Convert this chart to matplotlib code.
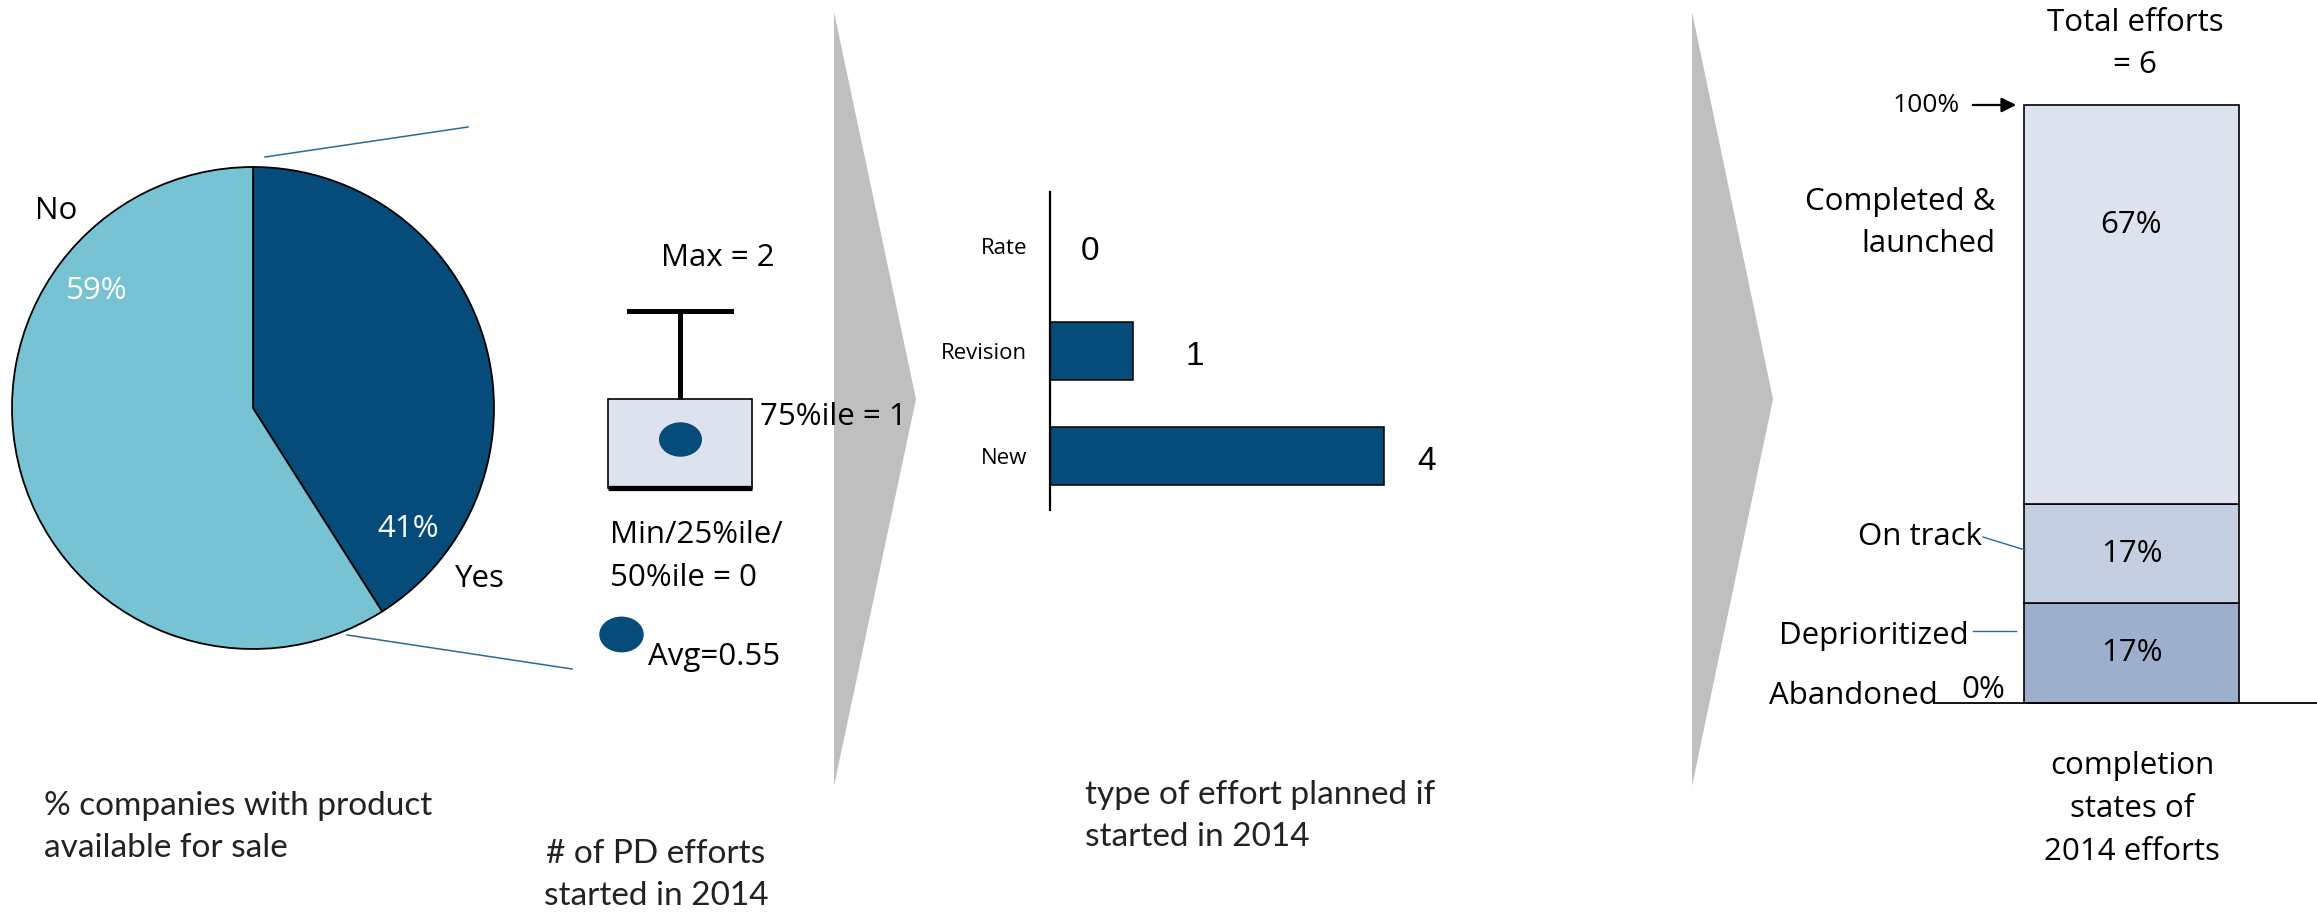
import numpy as np
import matplotlib
matplotlib.use("Agg")
import matplotlib.pyplot as plt
from matplotlib.path import Path

# % companies with product available for sale
pie_labels = ["Yes", "No"]
pie_pcts = [41, 59]

# number of PD efforts started in 2014
pd_min, pd_q1, pd_med, pd_q3, pd_max = 0, 0, 0, 1, 2
pd_avg = 0.55

# type of effort planned if started in 2014
effort_types = ["Rate", "Revision", "New"]
effort_counts = [0, 1, 4]

# completion states of 2014 efforts (bottom to top)
states = ["Abandoned", "Deprioritized", "On track", "Completed &\nlaunched"]
state_counts = [0, 1, 1, 4]

DARK = "#064C7B"
LIGHT = "#78C3D3"
BOXFILL = "#DDE3EE"
STACK_COLORS = ["#9CAFCD", "#9CAFCD", "#C4CFE1", "#DCE3EE"]
GREY = "#BFBFBF"
LINKBLUE = "#2A6A98"

plt.rcParams["font.family"] = ["Open Sans", "DejaVu Sans"]
CAPTION = dict(family=["Lato", "DejaVu Sans"], fontweight="normal", fontsize=24,
               color="#222222", linespacing=1.5)
FS = 22.5

W, H = 2317, 913
fig = plt.figure(figsize=(W / 100, H / 100), dpi=100)


def px_axes(l, t, r, b):
    return fig.add_axes([l / W, 1 - b / H, (r - l) / W, (b - t) / H])


# ---- pie ----
ax_pie = px_axes(12, 167, 494, 649)
ax_pie.pie(pie_pcts, colors=[DARK, LIGHT], startangle=90, counterclock=False,
           wedgeprops=dict(edgecolor="black", linewidth=1.3))
ax_pie.set_xlim(-1, 1)
ax_pie.set_ylim(-1, 1)
ax_pie.axis("off")
for p in ax_pie.patches:
    p.set_clip_on(False)

# ---- box plot ----
ax_box = px_axes(600, 311, 760, 488)
ellipse = Path(Path.unit_circle().vertices * [1, 0.8], Path.unit_circle().codes)
stats = [dict(med=pd_med, q1=pd_q1, q3=pd_q3, whislo=pd_min, whishi=pd_max,
              mean=pd_avg, fliers=[])]
parts = ax_box.bxp(stats, positions=[80], widths=[145], capwidths=[103],
                   patch_artist=True, showmeans=True, showfliers=False,
                   manage_ticks=False,
                   boxprops=dict(facecolor=BOXFILL, edgecolor="black", linewidth=1.2),
                   whiskerprops=dict(color="black", linewidth=3.6, solid_capstyle="butt"),
                   capprops=dict(color="black", linewidth=3.6),
                   medianprops=dict(color="black", linewidth=3.8),
                   meanprops=dict(marker=ellipse, markersize=31, markerfacecolor=DARK,
                                  markeredgecolor="none"))
for group in parts.values():
    for art in group:
        art.set_clip_on(False)
ax_box.set_xlim(0, 160)
ax_box.set_ylim(0, 2)
ax_box.axis("off")

# ---- horizontal bars ----
ax_bar = px_axes(1050, 192, 1467, 510)
pos = np.arange(len(effort_types))[::-1]
ax_bar.barh(pos, effort_counts, height=0.552, color=DARK, edgecolor="black", linewidth=1.1)
ax_bar.set_xlim(0, 5)
ax_bar.set_ylim(-0.514, 2.514)
for s in ["top", "right", "bottom"]:
    ax_bar.spines[s].set_visible(False)
ax_bar.spines["left"].set_linewidth(1.6)
ax_bar.set_xticks([])
ax_bar.set_yticks(pos, effort_types)
ax_bar.tick_params(axis="y", length=0, pad=16.5, labelsize=16)
label_dx = [0.48, 0.74, 0.51]
for p, v, dx in zip(pos, effort_counts, label_dx):
    ax_bar.text(v + dx, p - 0.05, str(v), ha="center", va="center", fontsize=24,
                family=["Liberation Sans", "DejaVu Sans"])

# ---- stacked completion bar ----
ax_st = px_axes(1936, 105, 2317, 703)
total = sum(state_counts)
pcts = [c / total * 100 for c in state_counts]
bottom = 0
label_frac = [0.5, 0.5, 0.5, 0.7]
for pct, col, fr in zip(pcts, STACK_COLORS, label_frac):
    ax_st.bar(195.5, pct, width=215, bottom=bottom, color=col, edgecolor="black", linewidth=1.2)
    if pct > 0:
        ax_st.text(195.5, bottom + pct * fr, f"{pct:.0f}%", ha="center", va="center", fontsize=FS)
    bottom += pct
ax_st.set_xlim(0, 381)
ax_st.set_ylim(0, 100)
for s in ["top", "right", "left"]:
    ax_st.spines[s].set_visible(False)
ax_st.spines["bottom"].set_linewidth(1.3)
ax_st.set_xticks([])
ax_st.set_yticks([])
for p in ax_st.patches:
    p.set_clip_on(False)

# ---- overlay for annotations ----
ov = fig.add_axes([0, 0, 1, 1])
ov.set_xlim(0, W)
ov.set_ylim(H, 0)
ov.axis("off")

# chevrons
for x0, tip in [(834, 916), (1692, 1773)]:
    ov.fill([x0, tip, x0], [12, 399, 786], color=GREY, lw=0)

# pie annotations
ov.text(56, 211, "No", ha="center", va="center", fontsize=FS)
ov.text(480, 579, "Yes", ha="center", va="center", fontsize=FS)
ov.text(97, 291, f"{pie_pcts[1]}%", ha="center", va="center", fontsize=FS, color="white")
ov.text(408, 529, f"{pie_pcts[0]}%", ha="center", va="center", fontsize=FS, color="white")
ov.plot([265, 468], [157, 127], color=LINKBLUE, lw=1.1)
ov.plot([347, 572], [635, 669], color=LINKBLUE, lw=1.1)
ov.text(44, 827, "% companies with product\navailable for sale", ha="left", va="center",
        **CAPTION)

# box annotations
ov.text(718, 258, f"Max = {pd_max}", ha="center", va="center", fontsize=FS)
ov.text(760, 417, f"75%ile = {pd_q3}", ha="left", va="center", fontsize=FS)
ov.text(610, 535, "Min/25%ile/", ha="left", va="center", fontsize=FS)
ov.text(610, 578, f"50%ile = {pd_med}", ha="left", va="center", fontsize=FS)
ov.plot([621], [634], marker=ellipse, markersize=31, color=DARK, ls="none")
ov.text(648, 657, f"Avg={pd_avg}", ha="left", va="center", fontsize=FS)
ov.text(656, 875, "# of PD efforts\nstarted in 2014", ha="center", va="center", **CAPTION)

# bar caption
ov.text(1085, 816, "type of effort planned if\nstarted in 2014", ha="left", va="center",
        **CAPTION)

# completion annotations
ov.text(2135, 44, f"Total efforts\n= {total}", ha="center", va="center", fontsize=FS,
        linespacing=1.55)
ov.text(1926, 106, "100%", ha="center", va="center", fontsize=19)
ov.annotate("", xy=(2019, 105), xytext=(1970, 105),
            arrowprops=dict(arrowstyle="-|>", color="black", lw=1.6, mutation_scale=22))
ov.text(1995, 223, states[3], ha="right", va="center", fontsize=FS, linespacing=1.55)
ov.text(1982, 537, states[2], ha="right", va="center", fontsize=FS)
ov.plot([1983, 2025], [537, 550], color=LINKBLUE, lw=1.0)
ov.text(1969, 636, states[1], ha="right", va="center", fontsize=FS)
ov.plot([1973, 2016], [631, 631], color=LINKBLUE, lw=1.0)
ov.text(1938, 696, states[0], ha="right", va="center", fontsize=FS)
ov.text(1983, 690, f"{pcts[0]:.0f}%", ha="center", va="center", fontsize=FS)
ov.text(2132, 809, "completion\nstates of\n2014 efforts", ha="center", va="center",
        fontsize=FS, linespacing=1.55)

fig.savefig("out.png", dpi=100)
